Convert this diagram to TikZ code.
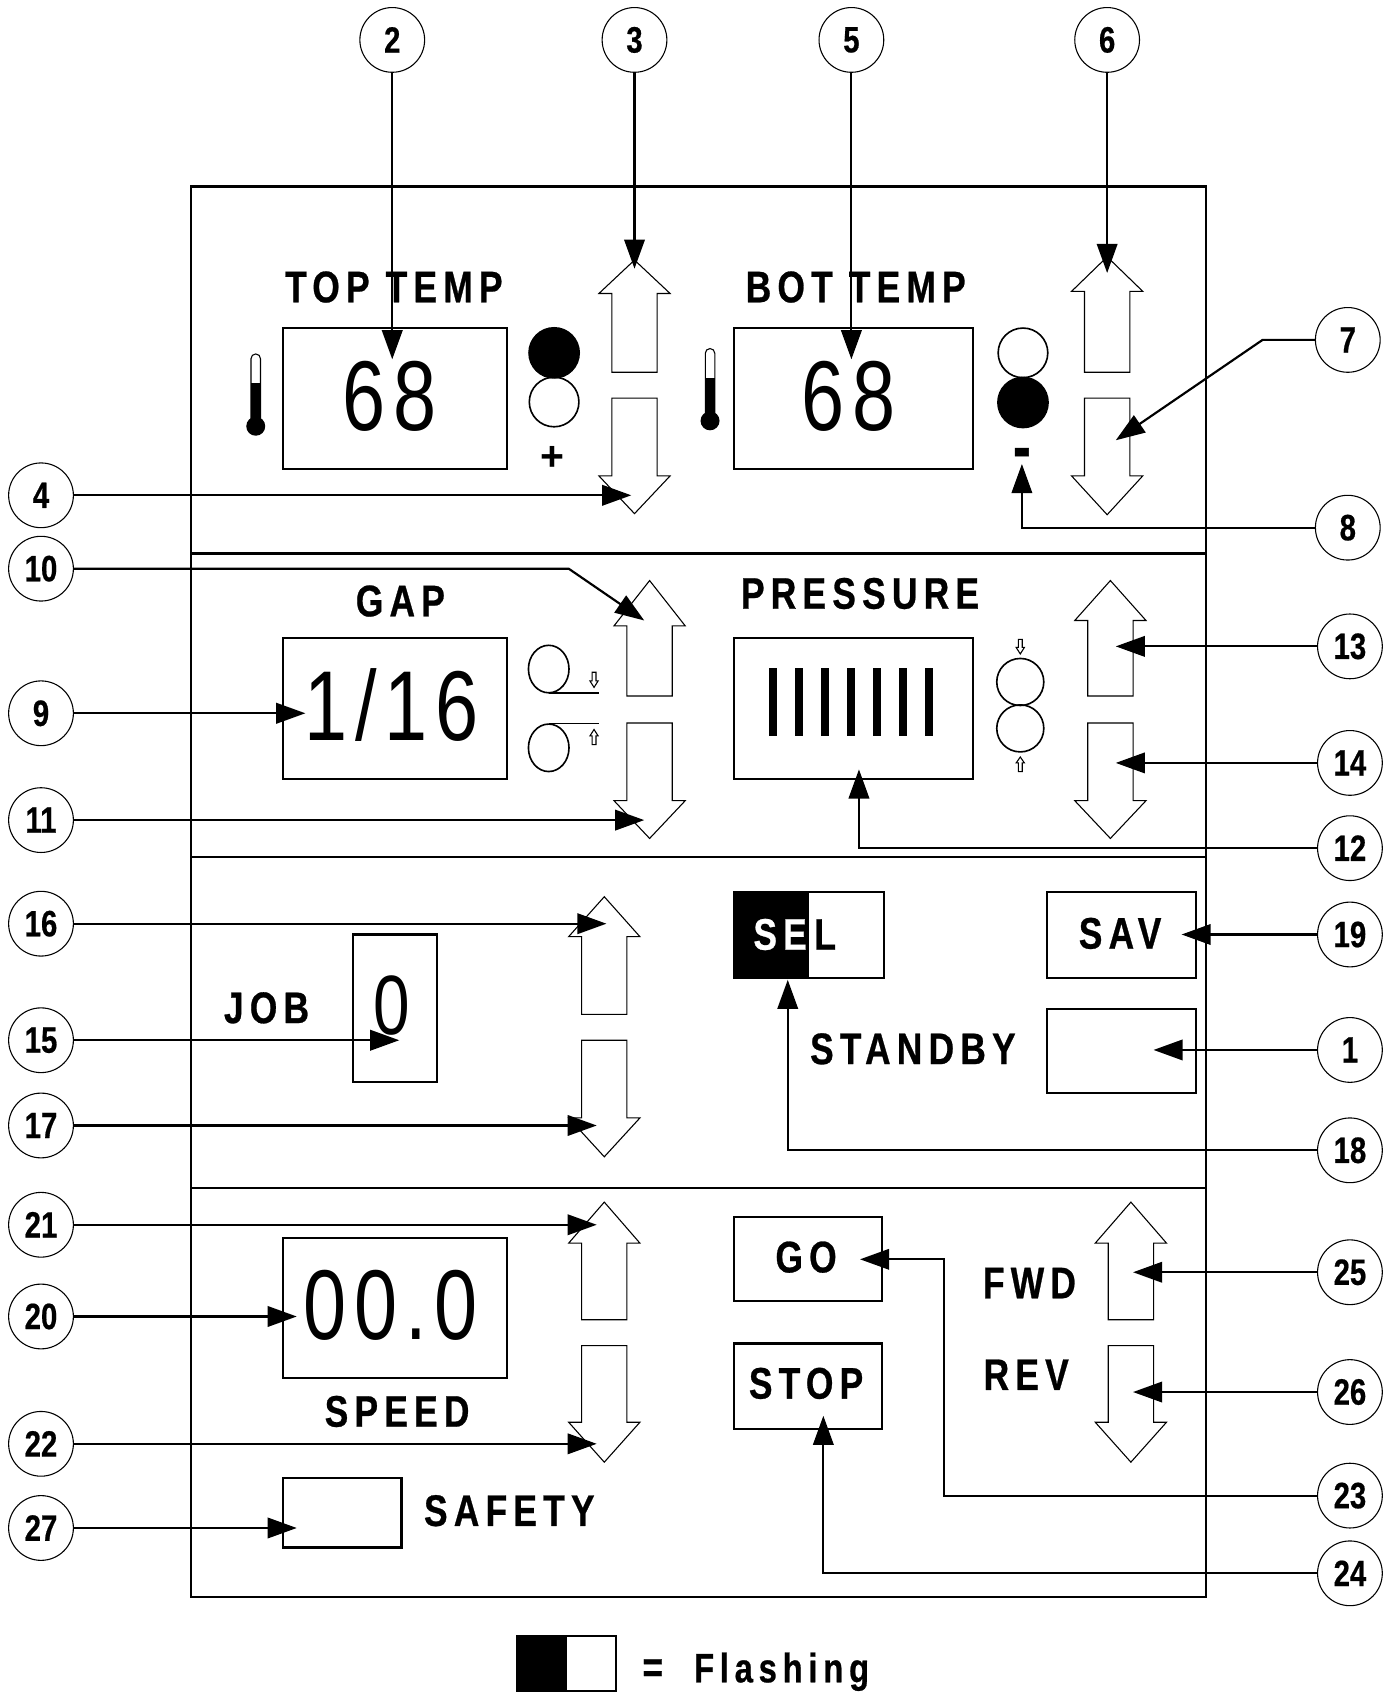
\documentclass[tikz,border=0pt]{standalone}
\usepackage{fontspec}
\setmainfont{Liberation Sans}
\newfontfamily\labfont{Liberation Sans}[FakeStretch=0.8,LetterSpace=14,FakeBold=0.6]
\newfontfamily\tagfont{Liberation Sans}[FakeStretch=0.8,FakeBold=0.5]
\newfontfamily\numfont{Liberation Sans}[FakeStretch=0.78,LetterSpace=8]
\usetikzlibrary{calc, arrows.meta, positioning}
\tikzset{
    panel/.style={draw, line width=2.2pt},
    lcdbox/.style={draw, line width=2pt},
    keyline/.style={draw, fill=white, line width=1pt},
    tag/.style={draw, circle, fill=white, minimum size=60pt, inner sep=0pt, line width=1pt, font=\tagfont\bfseries\fontsize{34}{34}\selectfont},
    lead/.style={line width=2pt, -{Triangle[length=27pt,width=19pt]}},
    caption/.style={inner sep=0pt, font=\labfont\bfseries\fontsize{41}{41}\selectfont},
    readout/.style={inner sep=0pt, font=\numfont\fontsize{92}{92}\selectfont}
}
% block arrows: centre x, three y levels, half widths of head and shaft
\newcommand{\blockkey}[6]{\draw[keyline] (#1,#2) -- (#1+#5,#3) -- (#1+#6,#3) -- (#1+#6,#4) -- (#1-#6,#4) -- (#1-#6,#3) -- (#1-#5,#3) -- cycle;}
\newcommand{\thermo}[3]{
    \draw[line width=1pt, fill=white] (#1-4.4,#3) -- (#1-4.4,#2+4.4) arc (180:360:4.4) -- (#1+4.4,#3) -- cycle;
    \fill (#1-4.6,#2+27) rectangle (#1+4.6,#3);
    \fill (#1,#3) circle (8.8);
}
\begin{document}
\begin{tikzpicture}[x=1pt, y=-1pt]
    \useasboundingbox (0,0) rectangle (1288,1568);

    % panel and its rows
    \draw[panel] (177,173) rectangle (1117.5,1480);
    \draw[panel] (177,513) -- (1117.5,513);
    \draw[panel] (177,794) -- (1117.5,794);
    \draw[panel] (177,1101) -- (1117.5,1101);

    % block arrows
    \foreach \cx/\ta/\tb/\tc/\ba/\bb/\bc in {588/241/272/345/369/441/476, 1026/238/270/345/369/441/477, 602/538/580/645/670/742/777, 1029/538/575/645/670/742/777, 560/831/868/940/964/1036/1072, 560/1114/1152/1223/1247/1318/1355, 1048/1114/1152/1223/1247/1318/1355}{
        \blockkey{\cx}{\ta}{\tb}{\tc}{33}{21}
        \blockkey{\cx}{\bc}{\bb}{\ba}{33}{21}
    }

    % top row
    \node[caption] (toplabel) at (365,266) {TOP TEMP};
    \draw[lcdbox] (262,304) rectangle (470,435);
    \node[readout] (topread) at (361,367) {68};
    \thermo{237}{328}{395}
    \fill (513.5,327) circle (24);
    \draw[line width=1.5pt] (513.5,372.5) circle (23);
    \node[inner sep=0pt, font=\bfseries\fontsize{38}{38}\selectfont] (plus) at (512,425) {+};
    \node[caption] (botlabel) at (793,266) {BOT TEMP};
    \draw[lcdbox] (680,304) rectangle (902,435);
    \node[readout] (botread) at (786,367) {68};
    \thermo{658}{323}{390}
    \draw[line width=1.5pt] (948,327) circle (23);
    \fill (948,373) circle (24);
    \node[anchor=base, inner sep=0pt, font=\labfont\bfseries\fontsize{62}{62}\selectfont] (minus) at (947,435) {-};

    % gap and pressure row
    \node[caption] (gaplabel) at (371,557) {GAP};
    \draw[lcdbox] (262,591) rectangle (470,722);
    \node[readout] (gapread) at (363,653) {1/16};
    \draw[line width=1.5pt] (508.5,620) ellipse (18.8 and 22);
    \draw[line width=1.5pt] (508.5,693) ellipse (18.8 and 22);
    \draw[line width=1.7pt] (508.5,642) -- (555,642);
    \draw[line width=1.7pt] (508.5,670.5) -- (555,670.5);
    \blockkey{550.5}{637}{631}{623}{3.8}{1.8}
    \blockkey{550.5}{676}{682}{690}{3.8}{1.8}
    \node[caption] (presslabel) at (797,550) {PRESSURE};
    \draw[lcdbox] (680,591) rectangle (902,722);
    \foreach \i in {0,...,6}
        \fill ({716+24.1*\i-3.75},619.5) rectangle ({716+24.1*\i+3.75},682.5);
    \draw[line width=1.5pt] (945.5,632) circle (21.8);
    \draw[line width=1.5pt] (945.5,675) circle (21.8);
    \blockkey{945.5}{606}{600}{592.5}{3.8}{1.8}
    \blockkey{945.5}{701.5}{707}{715}{3.8}{1.8}

    % job row
    \node[caption] (joblabel) at (247,934) {JOB};
    \draw[lcdbox] (327,866) rectangle (405,1003);
    \node[readout, font=\numfont\fontsize{78}{78}\selectfont] (jobread) at (363,932) {0};
    \fill (680,827) rectangle (750,906);
    \draw[lcdbox] (680,827) rectangle (819,906);
    \node[caption, anchor=west] (sellabel) at (698,866) {\textcolor{white}{SE}\hspace{7pt}L};
    \draw[lcdbox] (970,827) rectangle (1108,906);
    \node[caption] (savlabel) at (1038,865) {SAV};
    \draw[lcdbox] (970,935) rectangle (1108,1013);
    \node[caption] (standbylabel) at (846,972) {STANDBY};

    % speed row
    \draw[lcdbox] (262,1147) rectangle (470,1277);
    \node[readout] (speedread) at (362,1210) {00.0};
    \node[caption] (speedlabel) at (368,1308) {SPEED};
    \draw[lcdbox] (262,1370) rectangle (372,1434);
    \node[caption] (safetylabel) at (472,1400) {SAFETY};
    \draw[lcdbox] (680,1128) rectangle (817,1206);
    \node[caption] (golabel) at (747,1165) {GO};
    \draw[lcdbox] (680,1245) rectangle (817,1324);
    \node[caption] (stoplabel) at (747,1282) {STOP};
    \node[caption] (fwdlabel) at (954,1189) {FWD};
    \node[caption] (revlabel) at (951,1274) {REV};

    % legend
    \fill (479,1516) rectangle (525,1567);
    \draw[line width=1.4pt] (479,1516) rectangle (571,1567);
    \node[anchor=base, inner sep=0pt, font=\labfont\bfseries\fontsize{41}{41}\selectfont] (legendeq) at (605,1559) {=};
    \node[anchor=base west, inner sep=0pt, font=\labfont\bfseries\fontsize{38}{38}\selectfont] (legend) at (643,1559) {Flashing};

    % numbered tags and where their leads end
    \foreach \n/\x/\y/\tx/\ty in {2/363.5/37/363.5/333, 3/588/37/588/249, 5/789/37/789/333, 6/1026/37/1026/253,
        7/1249/315/1034/408, 8/1249/489/947/430, 13/1251/599/1034/599, 14/1251/707/1034/707, 12/1251/786/796/713,
        19/1251/866/1095/866, 1/1251/973/1069/973, 18/1251/1066/730/908, 25/1251/1179/1050/1179, 26/1251/1290/1050/1290,
        23/1251/1386/797/1167, 24/1251/1458/763/1312,
        4/38/459/585/459, 10/38/527/597/575, 9/38/661/283/661, 11/38/760/597/760, 16/38/856/562/856, 15/38/964/370/964,
        17/38/1043/553/1043, 21/38/1135/553/1135, 20/38/1220/275/1220, 22/38/1338/553/1338, 27/38/1416/275/1416}{
        \node[tag] (c\n) at (\x,\y) {\n};
        \coordinate (t\n) at (\tx,\ty);
    }
    \coordinate (b7) at (1170,315);
    \coordinate (b10) at (527,527);
    \coordinate (b23) at (875,1386);

    \foreach \n in {2,3,5,6,13,14,19,1,25,26,4,9,11,16,15,17,21,20,22,27}
        \draw[lead] (c\n) -- (t\n);
    \foreach \n in {8,12,18,24}
        \draw[lead] (c\n) -| (t\n);
    \draw[lead] (c7) -- (b7) -- (t7);
    \draw[lead] (c10) -- (b10) -- (t10);
    \draw[lead] (c23) -- (b23) |- (t23);
\end{tikzpicture}
\end{document}
